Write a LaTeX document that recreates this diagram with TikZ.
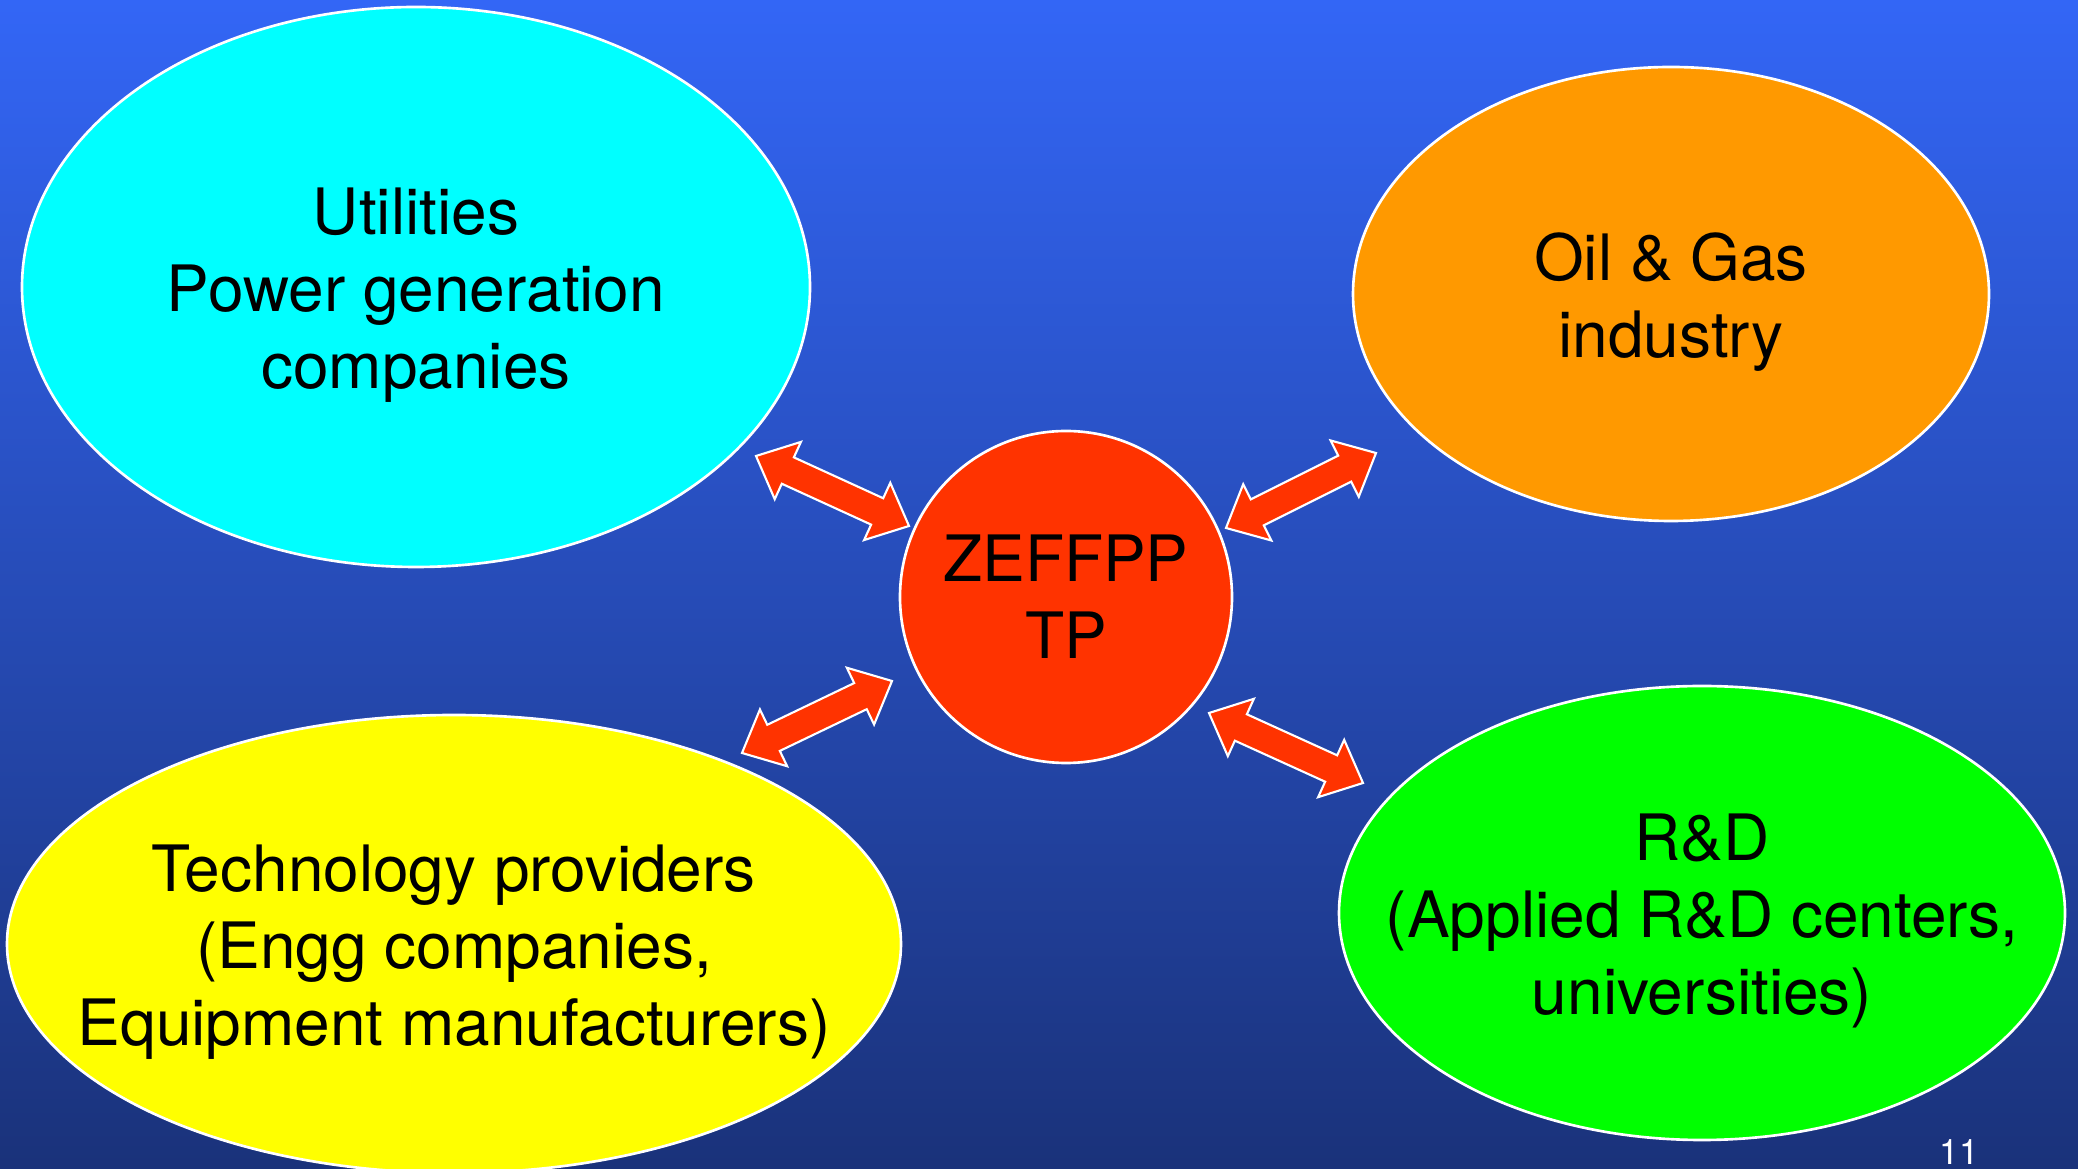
\documentclass[tikz,border=0pt]{standalone}
\usepackage{fontspec}
\setmainfont{TeX Gyre Heros}
\usetikzlibrary{shapes.geometric}
\usetikzlibrary{calc}
\usepackage{xcolor}

\definecolor{bgtop}{RGB}{51,102,246}
\definecolor{bgbottom}{RGB}{26,50,122}
\definecolor{zeffred}{RGB}{255,51,0}
\definecolor{utilcyan}{RGB}{0,255,255}
\definecolor{oilorange}{RGB}{255,153,0}
\definecolor{techyellow}{RGB}{255,255,0}
\definecolor{rndgreen}{RGB}{0,255,0}

% two headed block arrow between two coordinates
\newcommand{\twoway}[2]{%
  \draw[twoarrow] (#1)
    -- ($(#1)!0.35cm!(#2)!0.315cm!90:(#2)$)
    -- ($(#1)!0.35cm!(#2)!0.145cm!90:(#2)$)
    -- ($(#2)!0.35cm!(#1)!0.145cm!-90:(#1)$)
    -- ($(#2)!0.35cm!(#1)!0.315cm!-90:(#1)$)
    -- (#2)
    -- ($(#2)!0.35cm!(#1)!0.315cm!90:(#1)$)
    -- ($(#2)!0.35cm!(#1)!0.145cm!90:(#1)$)
    -- ($(#1)!0.35cm!(#2)!0.145cm!-90:(#2)$)
    -- ($(#1)!0.35cm!(#2)!0.315cm!-90:(#2)$)
    -- cycle;}

\begin{document}
\begin{tikzpicture}[
    blob/.style={draw=white, line width=0.75pt, ellipse, inner sep=0pt},
    blobtext/.style={align=center, inner sep=0pt, yshift=-0.08cm,
      font=\fontsize{18.2}{21.9}\selectfont},
    twoarrow/.style={draw=white, line width=0.6pt, fill=zeffred, line join=miter}]
            \useasboundingbox (0,0) rectangle (20.78,11.69);
            \clip (0,0) rectangle (20.78,11.69);
            \shade[top color=bgtop, bottom color=bgbottom] (0,0) rectangle (20.78,11.69);

            \node[blob, fill=utilcyan, minimum width=7.88cm, minimum height=5.60cm] (util) at (4.16,8.82) {};
            \node[blob, fill=oilorange, minimum width=6.36cm, minimum height=4.54cm] (oil) at (16.71,8.75) {};
            \node[blob, fill=techyellow, minimum width=8.94cm, minimum height=4.58cm] (tech) at (4.54,2.25) {};
            \node[blob, fill=rndgreen, minimum width=7.26cm, minimum height=4.54cm] (rnd) at (17.02,2.56) {};
            \node[blob, circle, fill=zeffred, minimum size=3.32cm] (zeff) at (10.66,5.72) {};

            \node[blobtext] (utiltext) at (util) {Utilities\\Power generation\\companies};
            \node[blobtext] (oiltext) at (oil) {Oil \& Gas\\industry};
            \node[blobtext] (techtext) at (tech) {Technology providers\\(Engg companies,\\Equipment manufacturers)};
            \node[blobtext] (rndtext) at (rnd) {R\&D\\(Applied R\&D centers,\\universities)};
            \node[blobtext, yshift=0.08cm] (zefftext) at (zeff) {ZEFFPP\\TP};

            \coordinate (util-end) at (7.56,7.13);
            \coordinate (zeff-ul) at (9.09,6.43);
            \coordinate (oil-end) at (13.76,7.16);
            \coordinate (zeff-ur) at (12.26,6.41);
            \coordinate (tech-end) at (7.42,4.16);
            \coordinate (zeff-ll) at (8.92,4.88);
            \coordinate (rnd-end) at (13.63,3.86);
            \coordinate (zeff-lr) at (12.09,4.56);

            \twoway{util-end}{zeff-ul}
            \twoway{zeff-ur}{oil-end}
            \twoway{tech-end}{zeff-ll}
            \twoway{zeff-lr}{rnd-end}

            \node[text=white, font=\fontsize{10}{12}\selectfont] (pagenum) at (19.59,0.165) {11};
        \end{tikzpicture}
\end{document}
